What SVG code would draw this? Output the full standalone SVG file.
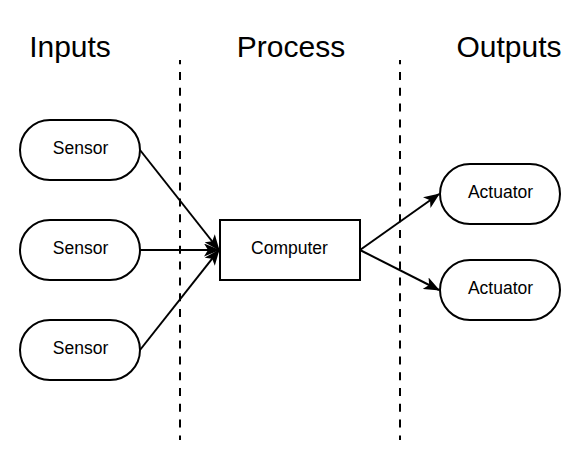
<svg xmlns="http://www.w3.org/2000/svg" width="586" height="451" viewBox="0 0 586 451">
<style>
.node{fill:#fff;stroke:#000;stroke-width:2}
.lbl{font-family:"Liberation Sans",Arial,sans-serif;font-size:17.5px;fill:#000;text-anchor:middle}
.head{font-family:"Liberation Sans",Arial,sans-serif;font-size:30px;fill:#000;text-anchor:middle}
.edge{fill:none;stroke:#000;stroke-width:2}
.sep{stroke:#000;stroke-width:2;stroke-dasharray:8 7.8;stroke-dashoffset:3.8}
</style>
<defs>
<marker id="arr" markerUnits="userSpaceOnUse" markerWidth="16" markerHeight="13" refX="15" refY="6.5" orient="auto" viewBox="0 0 16 13">
<path d="M0,0 L16,6.5 L0,13 L4,6.5 Z" fill="#000"/>
</marker>
</defs>
<g id="headings">
<text class="head" x="70" y="56.5">Inputs</text>
<text class="head" x="291" y="56.5">Process</text>
<text class="head" x="509" y="56.5">Outputs</text>
</g>
<g id="separators">
<line class="sep" x1="180" y1="60" x2="180" y2="440"/>
<line class="sep" x1="400" y1="60" x2="400" y2="440"/>
</g>
<g id="connectors">
<line class="edge" x1="140" y1="150" x2="219" y2="250" marker-end="url(#arr)"/>
<line class="edge" x1="140" y1="250" x2="219" y2="250" marker-end="url(#arr)"/>
<line class="edge" x1="140" y1="350" x2="219" y2="250" marker-end="url(#arr)"/>
<line class="edge" x1="360" y1="250" x2="439" y2="194" marker-end="url(#arr)"/>
<line class="edge" x1="360" y1="250" x2="439" y2="290" marker-end="url(#arr)"/>
</g>
<g id="sensor1"><rect class="node" x="20" y="120" width="120" height="60" rx="30" ry="30"/><text class="lbl" x="80.5" y="153.5">Sensor</text></g>
<g id="sensor2"><rect class="node" x="20" y="220" width="120" height="60" rx="30" ry="30"/><text class="lbl" x="80.5" y="253.5">Sensor</text></g>
<g id="sensor3"><rect class="node" x="20" y="320" width="120" height="60" rx="30" ry="30"/><text class="lbl" x="80.5" y="353.5">Sensor</text></g>
<g id="computer"><rect class="node" x="220" y="220" width="140" height="60"/><text class="lbl" x="289.5" y="254">Computer</text></g>
<g id="actuator1"><rect class="node" x="440" y="164" width="120" height="60" rx="30" ry="30"/><text class="lbl" x="500.5" y="198.3">Actuator</text></g>
<g id="actuator2"><rect class="node" x="440" y="260" width="120" height="60" rx="30" ry="30"/><text class="lbl" x="500.5" y="294">Actuator</text></g>
</svg>
